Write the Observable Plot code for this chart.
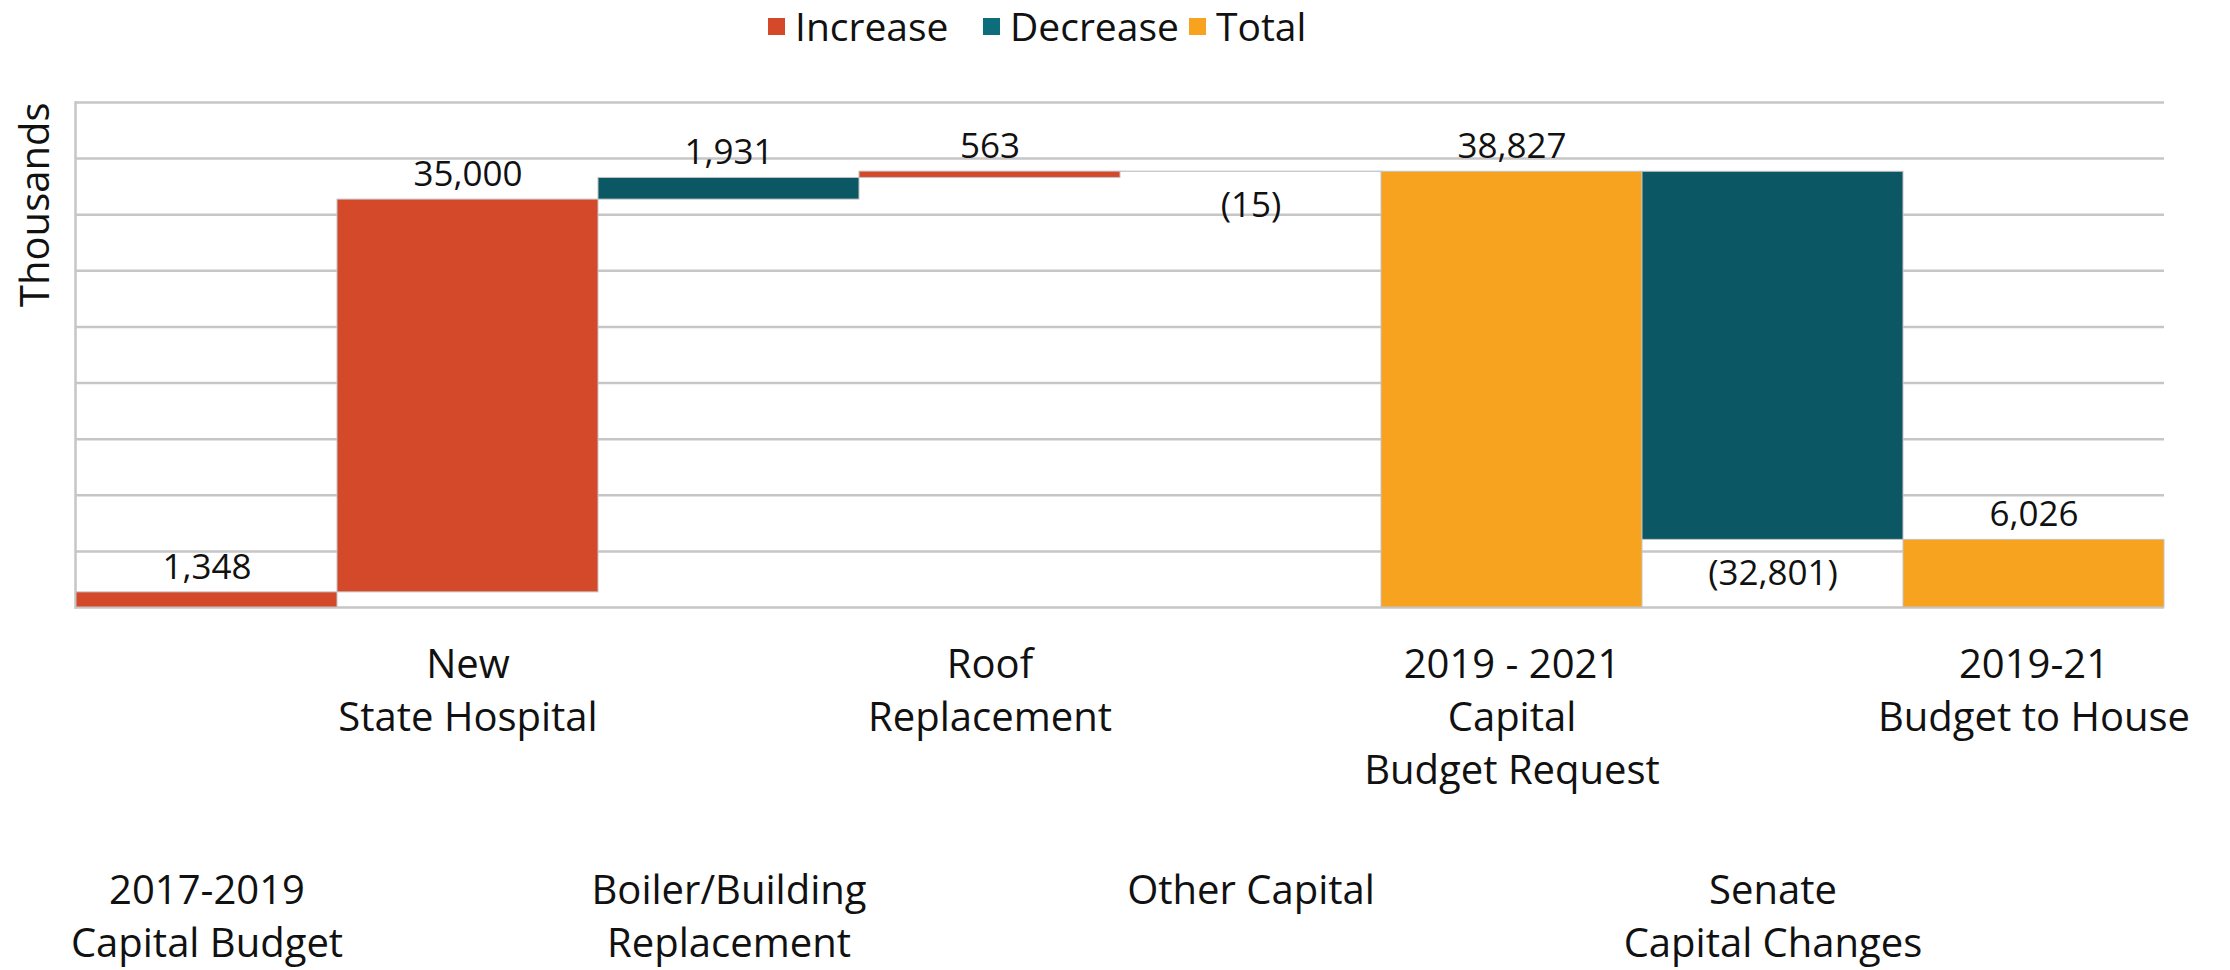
<!DOCTYPE html>
<html>
<head>
<meta charset="utf-8">
<script src="https://cdn.jsdelivr.net/npm/d3@7"></script>
<script src="https://cdn.jsdelivr.net/npm/@observablehq/plot@0.6"></script>
<style>
  html, body { margin: 0; padding: 0; background: #fff; }
  body { width: 2230px; height: 970px; overflow: hidden; font-family: "Segoe UI", "Open Sans", sans-serif; }
  #legend { position: relative; height: 50px; }
  .item { position: absolute; top: 0; height: 50px; display: flex; align-items: center; font-size: 39px; color: #111; }
  .sw { width: 17px; height: 17px; margin-right: 10px; margin-top: 2px; }
</style>
</head>
<body>
<div id="legend"></div>
<div id="chart"></div>
<script>
const categories = [
  "2017-2019\nCapital Budget",
  "New\nState Hospital",
  "Boiler/Building\nReplacement",
  "Roof\nReplacement",
  "Other Capital",
  "2019 - 2021\nCapital\nBudget Request",
  "Senate\nCapital Changes",
  "2019-21\nBudget to House"
];
const values = [1348, 35000, 1931, 563, -15, 38827, -32801, 6026];
const kinds = ["Increase", "Increase", "Decrease", "Increase", "Decrease", "Total", "Decrease", "Total"];
const legendNames = ["Increase", "Decrease", "Total"];
const legendColors = ["#D3492A", "#0B6E7A", "#F8A31F"];
const barColors = ["#D3492A", "#0B5763", "#F8A31F"];
const yTicks = [0, 5000, 10000, 15000, 20000, 25000, 30000, 35000, 40000, 45000];

// waterfall geometry from data
let running = 0;
const rows = categories.map((cat, i) => {
  const v = values[i];
  let a, b;
  if (kinds[i] === "Total") { a = 0; b = v; running = v; }
  else { a = running; b = running + v; running = b; }
  return {cat, i, v, kind: kinds[i], lo: Math.min(a, b), hi: Math.max(a, b)};
});
const fmt = v => v < 0 ? "(" + d3.format(",")(-v) + ")" : d3.format(",")(v);

// legend
const leg = document.getElementById("legend");
const lefts = [768, 983, 1189];
legendNames.forEach((n, i) => {
  const d = document.createElement("div");
  d.className = "item";
  d.style.left = lefts[i] + "px";
  d.innerHTML = `<div class="sw" style="background:${legendColors[i]}"></div><span>${n}</span>`;
  leg.appendChild(d);
});

const font = "Segoe UI, Open Sans, sans-serif";
const chart = Plot.plot({
  width: 2230,
  height: 920,
  marginTop: 52,
  marginBottom: 363,
  marginLeft: 75,
  marginRight: 66,
  style: {fontFamily: font, fontSize: "36px", color: "#111", background: "#fff"},
  x: {type: "band", domain: categories, padding: 0, axis: null},
  y: {domain: [0, 45000], axis: null},
  color: {domain: legendNames, range: barColors},
  marks: [
    Plot.gridY(yTicks, {stroke: "#c6c6c6", strokeOpacity: 1, strokeWidth: 2.5}),
    Plot.frame({anchor: "left", stroke: "#c6c6c6", strokeWidth: 2.5}),
    Plot.barY(rows, {x: "cat", y1: "lo", y2: "hi", fill: "kind", stroke: "#c4c4c4", strokeWidth: 1}),
    Plot.text(rows.filter(d => d.v >= 0), {x: "cat", y: "hi", text: d => fmt(d.v), dy: -25, fontSize: 35, fill: "#111"}),
    Plot.text(rows.filter(d => d.v < 0), {x: "cat", y: "lo", text: d => fmt(d.v), dy: 34, fontSize: 35, fill: "#111"}),
    Plot.text(rows.filter(d => d.i % 2 === 1), {x: "cat", text: "cat", frameAnchor: "bottom", lineAnchor: "top", dy: 33, lineHeight: 1.32, fontSize: 40, fill: "#111"}),
    Plot.text(rows.filter(d => d.i % 2 === 0), {x: "cat", text: "cat", frameAnchor: "bottom", lineAnchor: "top", dy: 259, lineHeight: 1.32, fontSize: 40, fill: "#111"}),
    Plot.text(["Thousands"], {frameAnchor: "top-left", rotate: -90, textAnchor: "end", dx: -55, fontSize: 40, fill: "#111"})
  ]
});
document.getElementById("chart").appendChild(chart);
</script>
</body>
</html>
